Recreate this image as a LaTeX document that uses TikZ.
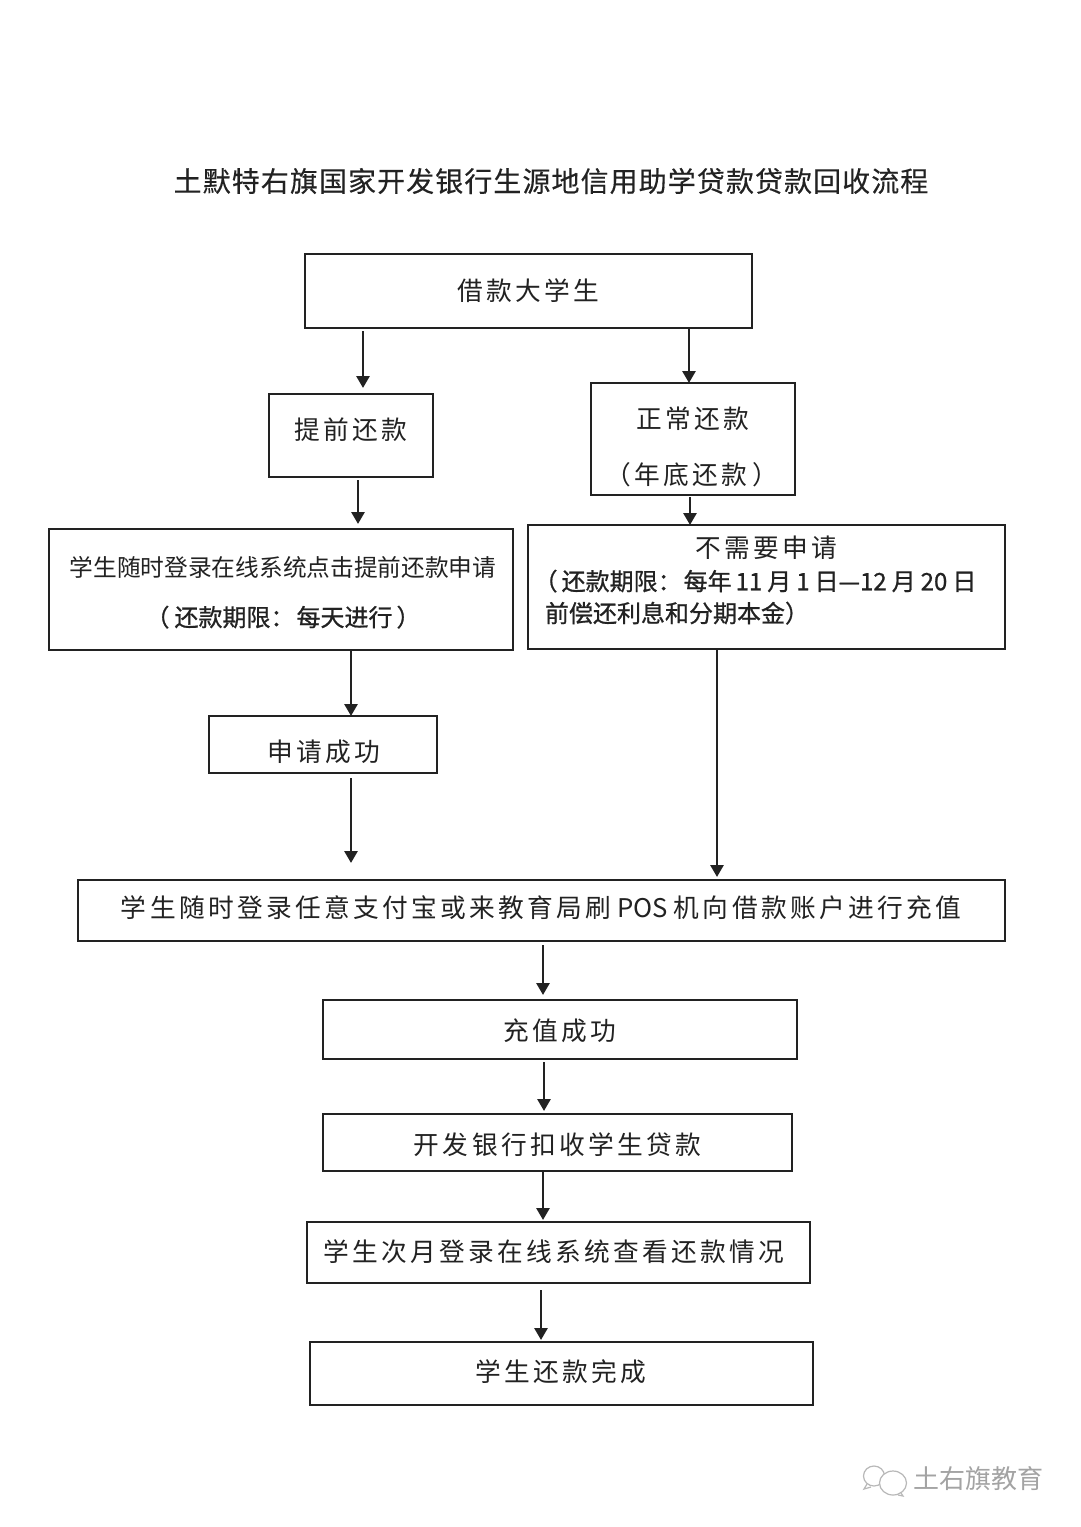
\documentclass[tikz,border=0pt]{standalone}
\usepackage{fontspec}
\usetikzlibrary{arrows.meta}
\newfontfamily\cjkloose[LetterSpace=13]{Noto Sans CJK SC}
\newfontfamily\cjktitle[LetterSpace=4,FakeBold=0.3]{Noto Sans CJK SC}
\newfontfamily\cjkplain{Noto Sans CJK SC}
\newfontfamily\cjkheavy[FakeBold=0.8]{Noto Sans CJK SC}
\setmainfont{Noto Sans CJK SC}
% a line of text placed at an offset (dx, dy, px) from the centre of its box
\newcommand{\tx}[3]{\smash{\raisebox{\dimexpr-#2pt-0.36em\relax}{\makebox[0pt][c]{\hspace*{#1pt}\hspace*{#1pt}#3}}}}
\newcommand{\gp}[1]{\hspace*{#1pt}}
\newcommand{\fbig}{\fontsize{25.7}{26}\selectfont\cjkloose}
\newcommand{\fthin}{\fontsize{23.7}{24}\selectfont\cjkplain}
\newcommand{\fheavy}{\fontsize{24}{24}\selectfont\cjkheavy}
\definecolor{ink}{HTML}{222222}
\tikzset{
  box/.style={draw=ink,line width=2.4pt,inner sep=0pt,outer sep=0pt,text=ink,font=\fbig},
  heavybox/.style={box,line width=2.8pt},
  arrow/.style={draw=ink,line width=2.8pt,-{Triangle[length=12pt,width=13pt]}},
  titletext/.style={inner sep=0pt,text=ink,font=\fontsize{27.95}{28}\selectfont\cjktitle},
  watermark/.style={inner sep=0pt,text=black!36,font=\fontsize{26}{26}\selectfont\cjkplain},
  bubble/.style={draw=black!28,line width=1.2pt}
}
\begin{document}
\begin{tikzpicture}[x=1pt,y=-1pt]
\useasboundingbox (0,0) rectangle (1080,1527);
\fill[white] (0,0) rectangle (1080,1527);

\node[titletext] (title) at (551,181) {土默特右旗国家开发银行生源地信用助学贷款贷款回收流程};

\node[box,minimum width=447pt,minimum height=74pt] (b1) at (528.5,291) {\tx{-0.5}{0}{借款大学生}};
\node[box,minimum width=164pt,minimum height=83pt] (b2) at (351,435.5) {\tx{-0.5}{-5.5}{提前还款}};
\node[box,minimum width=204pt,minimum height=112pt] (b3) at (693,439) {\tx{-0.5}{-20}{正常还款}\tx{-1}{36}{（\gp{3}年底还款\gp{6}）}};
\node[heavybox,minimum width=464pt,minimum height=121pt] (b4) at (281,589.5) {\tx{2}{-22.5}{\fthin 学生随时登录在线系统点击提前还款申请}\tx{2}{27.5}{\fheavy （\gp{5}还款期限：\gp{2}每天进行\gp{4}）}};
\node[box,minimum width=477pt,minimum height=124pt] (b5) at (766.5,587) {\tx{0}{-39}{不需要申请}\tx{-11.5}{-6}{\fheavy （\gp{4}还款期限：\gp{2}每年\gp{4}11\gp{5}月\gp{5}1\gp{5}日—12\gp{5}月\gp{5}20\gp{5}日}\tx{-89.5}{26}{\fheavy 前偿还利息和分期本金）}};
\node[box,minimum width=228pt,minimum height=57pt] (b6) at (323,744.5) {\tx{0.5}{7.5}{申请成功}};
\node[heavybox,minimum width=927pt,minimum height=61pt] (b7) at (541.5,910.5) {\tx{-0.5}{-2.5}{学生随时登录任意支付宝或来教育局刷\gp{6}{\cjkplain POS}\gp{6}机向借款账户进行充值}};
\node[box,minimum width=474pt,minimum height=59pt] (b8) at (560,1029.5) {\tx{-0.5}{1.5}{充值成功}};
\node[box,minimum width=469pt,minimum height=57pt] (b9) at (557.5,1142.5) {\tx{0}{2.5}{开发银行扣收学生贷款}};
\node[box,minimum width=503pt,minimum height=61pt] (b10) at (558.5,1252.5) {\tx{-4.5}{0}{学生次月登录在线系统查看还款情况}};
\node[box,minimum width=503pt,minimum height=63pt] (b11) at (561.5,1373.5) {\tx{-0.5}{-1.5}{学生还款完成}};

\draw[arrow] ([xshift=-165.5pt,yshift=-3pt]b1.south) -- ([xshift=12pt,yshift=6pt]b2.north);
\draw[arrow] ([xshift=160.5pt]b1.south) -- ([xshift=-4pt]b3.north);
\draw[arrow] ([xshift=7pt,yshift=-3pt]b2.south) -- ([xshift=77pt,yshift=5pt]b4.north);
\draw[arrow] ([xshift=-3pt,yshift=-2pt]b3.south) -- ([xshift=-76.5pt]b5.north);
\draw[arrow] ([xshift=70pt]b4.south) -- ([xshift=28pt]b6.north);
\draw[arrow] ([xshift=28pt,yshift=-5pt]b6.south) -- ([xshift=-190.5pt,yshift=17pt]b7.north);
\draw[arrow] ([xshift=-49.5pt]b5.south) -- ([xshift=175.5pt,yshift=3pt]b7.north);
\draw[arrow] ([xshift=1.5pt,yshift=-4pt]b7.south) -- ([xshift=-17pt,yshift=5pt]b8.north);
\draw[arrow] ([xshift=-16pt,yshift=-3pt]b8.south) -- ([xshift=-13.5pt,yshift=3pt]b9.north);
\draw[arrow] ([xshift=-14.5pt,yshift=-1pt]b9.south) -- ([xshift=-15.5pt,yshift=2pt]b10.north);
\draw[arrow] ([xshift=-17.5pt,yshift=-7pt]b10.south) -- ([xshift=-20.5pt,yshift=2pt]b11.north);

% watermark
\draw[bubble,fill=white] (874,1476) ellipse (10.5 and 10);
\draw[bubble] (867,1484) -- (864,1489) -- (871,1487);
\draw[bubble,fill=white] (893,1483) ellipse (13.5 and 12);
\draw[bubble] (901,1493) -- (903,1496) -- (898,1495);
\node[watermark] (wm) at (978,1479) {土右旗教育};
\end{tikzpicture}
\end{document}
